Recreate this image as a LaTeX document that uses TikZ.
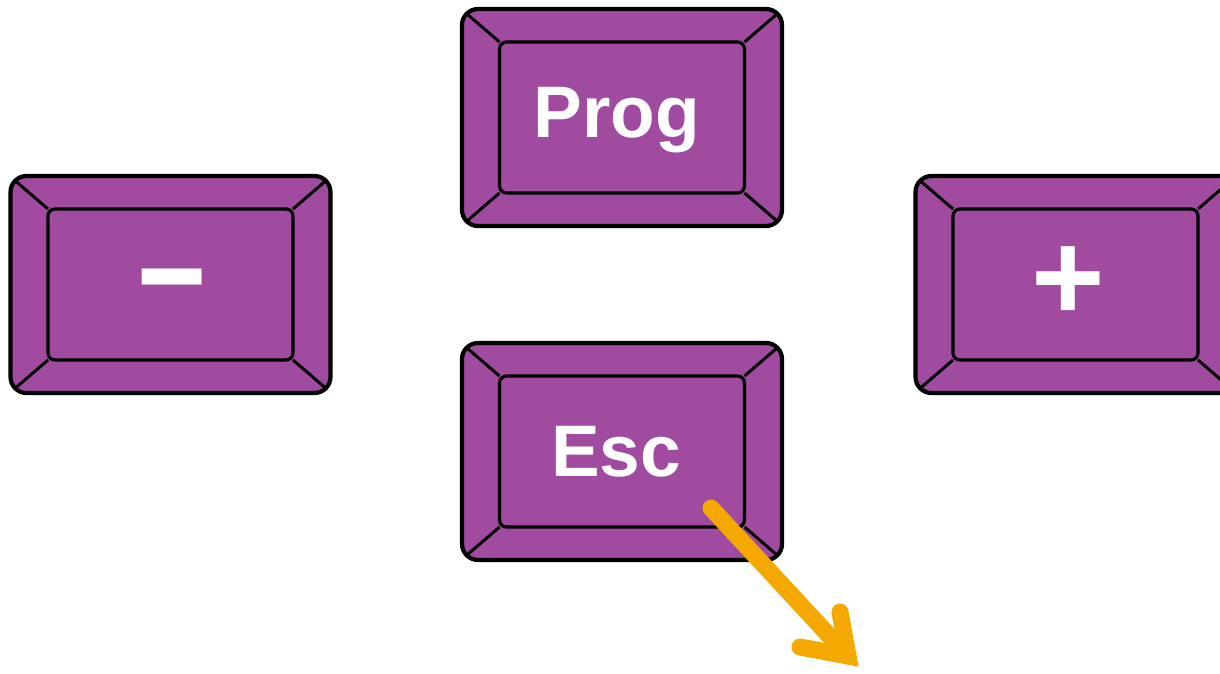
\documentclass[tikz,border=0pt]{standalone}
\usepackage{fontspec}
\setmainfont{Liberation Sans}
\usetikzlibrary{calc}
\definecolor{keypurple}{RGB}{160,74,160}
\definecolor{arroworange}{RGB}{245,168,0}
\tikzset{
  outerkey/.style={draw=black, fill=keypurple, line width=4.2pt, rounded corners=16pt,
    minimum width=320pt, minimum height=217pt, inner sep=0pt, outer sep=0pt},
  innerkey/.style={draw=black, fill=keypurple, line width=3.2pt, rounded corners=7pt,
    minimum width=245pt, minimum height=151pt, inner sep=0pt, outer sep=0pt},
  keyline/.style={draw=black, line width=3pt},
  keytext/.style={text=white, font=\bfseries\fontsize{73}{76}\selectfont, inner sep=0pt},
  symtext/.style={text=white, font=\bfseries, inner sep=0pt},
  orangeline/.style={draw=arroworange, line width=17pt, line cap=round, line join=miter}
}
\newcommand\keycap[3]{%
  \node[outerkey] (#1O) at (#2,#3) {};
  \draw[keyline] ($(#1O.north west)+(5,5)$) -- ($(#1O.center)+(-122.5,-75.5)$);
  \draw[keyline] ($(#1O.north east)+(-5,5)$) -- ($(#1O.center)+(122.5,-75.5)$);
  \draw[keyline] ($(#1O.south west)+(5,-5)$) -- ($(#1O.center)+(-122.5,75.5)$);
  \draw[keyline] ($(#1O.south east)+(-5,-5)$) -- ($(#1O.center)+(122.5,75.5)$);
  \node[innerkey] (#1I) at (#2,#3) {};
}
\begin{document}
\begin{tikzpicture}[x=1pt,y=-1pt]
\useasboundingbox (0,0) rectangle (1220,674);
\keycap{prog}{622}{117.5}
\keycap{esc}{622}{451.5}
\keycap{minus}{170.5}{284.5}
\keycap{plus}{1075.5}{284.5}
\node[keytext, anchor=base] (progT) at (617,138) {Prog};
\node[keytext, anchor=base] (escT) at (616,476) {Esc};
\node[symtext, anchor=base] (minusT) at (172,320) {\scalebox{1.12}[1.5]{\fontsize{108}{110}\selectfont –}};
\node[symtext, anchor=base] (plusT) at (1068,320) {\fontsize{126}{128}\selectfont +};
\coordinate (aStart) at (711,508);
\coordinate (aTip) at (848,656);
\coordinate (aArm1) at (840,612);
\coordinate (aArm2) at (800,647);
\draw[orangeline] (aStart) -- (aTip);
\draw[orangeline] (aArm1) -- (aTip) -- (aArm2);
\end{tikzpicture}
\end{document}
